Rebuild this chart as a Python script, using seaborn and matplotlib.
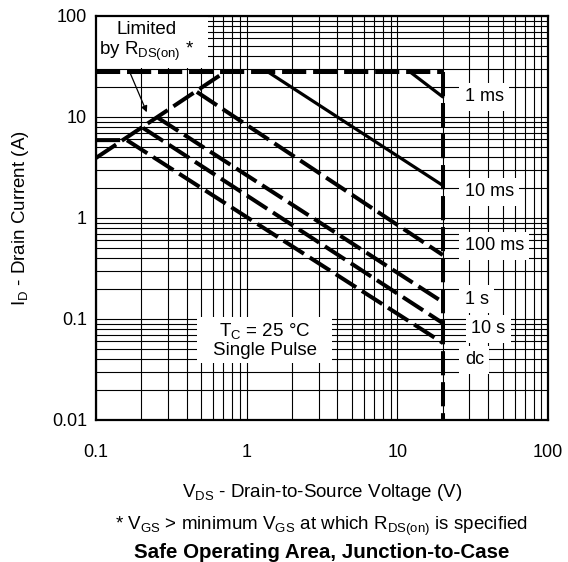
import numpy as np
import pandas as pd
import seaborn as sns
import matplotlib.pyplot as plt
from matplotlib.patches import Rectangle
from matplotlib.ticker import FixedLocator, FuncFormatter, LogLocator, NullFormatter

# limits (V, A)
rds_v = [0.1, 0.72]
rds_i = [3.93, 28]
imax_v = [0.1, 20]
imax_i = [28, 28]
vmax_v = [20, 20]
vmax_i = [28, 0.01]

# pulse curves
ms1_v = [12.1, 20]
ms1_i = [28, 15.8]
ms10_v = [1.38, 20]
ms10_i = [28, 2.1]
ms100_v = [0.467, 20]
ms100_i = [17.7, 0.43]
s1_v = [0.258, 20]
s1_i = [9.8, 0.147]
s10_v = [0.205, 20]
s10_i = [7.8, 0.091]
dc_v = [0.1, 0.16, 20]
dc_i = [5.9, 5.9, 0.058]

curve_labels = ["1 ms", "10 ms", "100 ms", "1 s", "10 s", "dc"]
label_v = [28, 28, 28, 28, 31, 28]
label_i = [15.8, 1.81, 0.53, 0.157, 0.08, 0.0395]

arrow_from = (0.163, 30.6)
arrow_to = (0.221, 10.5)

sns.set_style("white")
plt.rcParams['font.family'] = ['Liberation Sans', 'DejaVu Sans']
plt.rcParams['mathtext.fontset'] = 'custom'
plt.rcParams['mathtext.rm'] = 'Liberation Sans'
plt.rcParams['mathtext.it'] = 'Liberation Sans:italic'
plt.rcParams['mathtext.bf'] = 'Liberation Sans:bold'
plt.rcParams['text.color'] = 'black'
plt.rcParams['axes.labelcolor'] = 'black'

FS = 13.5

fig = plt.figure(figsize=(5.68, 5.62), dpi=100)
ax = fig.add_axes([0.169, 0.2527, 0.796, 0.7189])

DASH = (0, (6, 1.7))


def draw(v, i, ls=DASH, lw=2.9):
    sns.lineplot(x=v, y=i, ax=ax, color="black", linewidth=lw,
                 linestyle=ls, estimator=None, sort=False)


draw(rds_v, rds_i)
draw(imax_v, imax_i)
draw(vmax_v, vmax_i)
draw(ms1_v, ms1_i, ls="-", lw=2.3)
draw(ms10_v, ms10_i, ls="-", lw=2.3)
draw(ms100_v, ms100_i)
draw(s1_v, s1_i)
draw(s10_v, s10_i)
draw(dc_v, dc_i)

ax.set_xscale("log")
ax.set_yscale("log")
ax.set_xlim(0.1, 100)
ax.set_ylim(0.01, 100)

ax.xaxis.set_major_locator(FixedLocator([0.1, 1, 10, 100]))
ax.yaxis.set_major_locator(FixedLocator([0.01, 0.1, 1, 10, 100]))
for axis in (ax.xaxis, ax.yaxis):
    axis.set_minor_locator(LogLocator(base=10, subs=np.arange(2, 10), numticks=20))
    axis.set_major_formatter(FuncFormatter(lambda v, p: f"{v:g}"))
    axis.set_minor_formatter(NullFormatter())

ax.grid(which="both", color="black", linewidth=0.8)
ax.set_axisbelow(True)
ax.tick_params(which="both", length=0, labelsize=13, colors="black")
ax.tick_params(axis="x", pad=17)
ax.tick_params(axis="y", pad=6.5)
for s in ax.spines.values():
    s.set_linewidth(1.6)
    s.set_color("black")

# white boxes that hide the grid under the notes
ax.add_patch(Rectangle((0, 0.871), 0.248, 0.129, transform=ax.transAxes,
                       facecolor="white", edgecolor="none", zorder=1))
ax.add_patch(Rectangle((0.223, 0.141), 0.299, 0.114, transform=ax.transAxes,
                       facecolor="white", edgecolor="none", zorder=1))

ax.text(0.112, 0.935, "Limited\nby $\\mathregular{R_{DS(on)}}$ *", transform=ax.transAxes,
        ha="center", va="center", fontsize=FS, linespacing=1.15, zorder=3)
ax.text(0.373, 0.198, "$\\mathregular{T_C}$ = 25 °C\nSingle Pulse", transform=ax.transAxes,
        ha="center", va="center", fontsize=FS, linespacing=1.1, zorder=3)

for lab, v, i in zip(curve_labels, label_v, label_i):
    ax.text(v, i, lab, ha="left", va="center", fontsize=13, zorder=3,
            bbox=dict(boxstyle="square,pad=0.3", facecolor="white", edgecolor="none"))

ax.annotate("", xy=arrow_to, xytext=arrow_from,
            arrowprops=dict(arrowstyle="-|>", color="black", lw=0.9, mutation_scale=9))

ax.set_ylabel("$\\mathregular{I_D}$ - Drain Current (A)", fontsize=FS)
ax.yaxis.set_label_coords(-0.144, 0.5)
ax.set_xlabel("$\\mathregular{V_{DS}}$ - Drain-to-Source Voltage (V)", fontsize=FS)
ax.xaxis.label.set_va("baseline")
ax.xaxis.set_label_coords(0.5, (420 - 497) / 404)

cx = (96 + 548) / 2 / 568
fig.text(cx, 1 - 530 / 562,
         "* $\\mathregular{V_{GS}}$ > minimum $\\mathregular{V_{GS}}$ at which "
         "$\\mathregular{R_{DS(on)}}$ is specified",
         ha="center", va="baseline", fontsize=FS)
fig.text(cx, 1 - 558 / 562, "Safe Operating Area, Junction-to-Case",
         ha="center", va="baseline", fontsize=14.8, fontweight="bold")

fig.savefig("out.png", dpi=100)
